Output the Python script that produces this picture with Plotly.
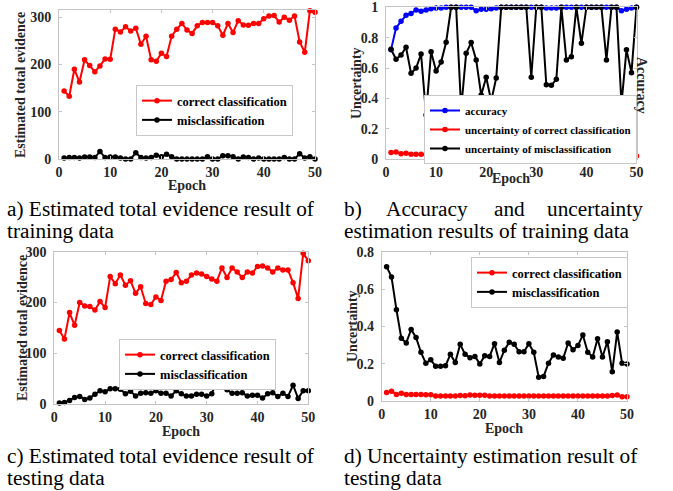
import plotly.graph_objects as go

W, H = 673, 491
epochs = list(range(1, 51))

# (a) training evidence
a_correct = [144, 133, 190, 163, 210, 198, 185, 197, 212, 211,
             275, 269, 280, 271, 277, 243, 260, 210, 207, 224,
             217, 260, 275, 287, 273, 266, 282, 289, 289, 289,
             282, 262, 287, 268, 293, 284, 283, 287, 287, 297,
             303, 304, 290, 300, 294, 303, 248, 226, 314, 311]
a_mis = [2, 3, 3, 2, 4, 4, 3, 16, 3, 4,
         4, 2, 0, 0, 13, 3, 2, 3, 8, 5,
         10, 5, 0, 0, 0, 0, 0, 0, 5, 0,
         0, 7, 7, 5, 0, 4, 3, 0, 2, 0,
         0, 0, 0, 3, 0, 0, 11, 2, 5, 0]

# (b) training accuracy / uncertainty
b_acc = [0.72, 0.864, 0.908, 0.947, 0.96, 0.982, 0.974, 0.982, 0.991, 0.996,
         0.996, 1.0, 1.0, 1.0, 1.0, 1.0, 1.0, 0.978, 0.987, 0.987,
         0.991, 0.996, 1.0, 1.0, 1.0, 1.0, 1.0, 1.0, 1.0, 1.0,
         1.0, 0.996, 0.996, 0.996, 1.0, 1.0, 1.0, 1.0, 1.0, 1.0,
         1.0, 1.0, 1.0, 1.0, 1.0, 1.0, 0.978, 0.987, 0.996, 1.0]
b_unc_correct = [0.045, 0.048, 0.037, 0.040, 0.033, 0.033, 0.033, 0.032, 0.031, 0.030,
                 0.027, 0.027, 0.027, 0.027, 0.027, 0.028, 0.027, 0.032, 0.031, 0.030,
                 0.030, 0.027, 0.027, 0.026, 0.026, 0.026, 0.026, 0.026, 0.026, 0.026,
                 0.026, 0.026, 0.026, 0.026, 0.026, 0.026, 0.026, 0.026, 0.026, 0.026,
                 0.026, 0.026, 0.026, 0.026, 0.026, 0.026, 0.027, 0.030, 0.022, 0.022]
b_unc_mis = [0.724, 0.658, 0.686, 0.737, 0.566, 0.600, 0.693, 0.292, 0.708, 0.581,
             0.640, 0.770, 1.0, 1.0, 0.331, 0.697, 0.768, 0.654, 0.423, 0.540,
             0.384, 0.535, 1.0, 1.0, 1.0, 1.0, 1.0, 1.0, 0.540, 1.0,
             1.0, 0.490, 0.487, 0.526, 1.0, 0.654, 0.675, 1.0, 0.763, 1.0,
             1.0, 1.0, 1.0, 0.654, 1.0, 1.0, 0.364, 0.720, 0.570, 1.0]

# (c) testing evidence
c_correct = [145, 128, 180, 155, 200, 193, 192, 185, 202, 190,
             251, 237, 254, 234, 243, 218, 231, 198, 196, 211,
             204, 242, 245, 259, 239, 242, 254, 258, 256, 251,
             246, 242, 268, 249, 268, 260, 249, 260, 258, 271,
             272, 268, 260, 268, 264, 264, 239, 208, 297, 282]
c_mis = [2, 3, 7, 13, 15, 9, 12, 19, 26, 24,
         30, 30, 29, 20, 25, 16, 21, 22, 21, 26,
         21, 21, 16, 26, 20, 16, 16, 19, 19, 16,
         20, 46, 45, 28, 21, 21, 22, 16, 17, 17,
         12, 20, 22, 15, 21, 15, 37, 11, 26, 26]

# (d) testing uncertainty
d_correct = [0.047, 0.054, 0.036, 0.043, 0.036, 0.036, 0.036, 0.036, 0.035, 0.035,
             0.029, 0.029, 0.029, 0.029, 0.029, 0.031, 0.030, 0.034, 0.033, 0.032,
             0.032, 0.029, 0.029, 0.029, 0.029, 0.029, 0.029, 0.029, 0.029, 0.029,
             0.029, 0.029, 0.028, 0.029, 0.028, 0.028, 0.028, 0.028, 0.028, 0.028,
             0.028, 0.028, 0.028, 0.028, 0.028, 0.028, 0.031, 0.034, 0.025, 0.025]
d_mis = [0.72, 0.665, 0.49, 0.337, 0.312, 0.384, 0.341, 0.262, 0.204, 0.222,
         0.187, 0.187, 0.19, 0.251, 0.208, 0.305, 0.251, 0.233, 0.24, 0.2,
         0.244, 0.24, 0.308, 0.208, 0.273, 0.316, 0.305, 0.265, 0.265, 0.308,
         0.262, 0.129, 0.133, 0.204, 0.248, 0.237, 0.23, 0.312, 0.276, 0.298,
         0.355, 0.262, 0.237, 0.334, 0.237, 0.319, 0.158, 0.37, 0.204, 0.2]

x_ticks = [0, 10, 20, 30, 40, 50]

FONT = "Liberation Serif"
TICKC = "#262626"
AXC = "#c4c4c4"

def px(x):
    return min(max(x / W, 0.0), 1.0)

def py(y):
    return min(max(1 - y / H, 0.0), 1.0)

fig = go.Figure()

def add(x, y, color, name, xa, ya, legend):
    fig.add_trace(go.Scatter(
        x=x, y=y, name=name, mode="lines+markers",
        line=dict(color=color, width=2),
        marker=dict(color=color, size=5.5, symbol="circle"),
        xaxis=xa, yaxis=ya, legend=legend, cliponaxis=False))

add(epochs, a_correct, "#ff0000", "correct classification", "x", "y", "legend")
add(epochs, a_mis, "#000000", "misclassification", "x", "y", "legend")
add(epochs, b_acc, "#0000ff", "accuracy", "x2", "y2", "legend2")
add(epochs, b_unc_correct, "#ff0000", "uncertainty of correct classification", "x2", "y2", "legend2")
add(epochs, b_unc_mis, "#000000", "uncertainty of misclassification", "x2", "y2", "legend2")
add(epochs, c_correct, "#ff0000", "correct classification", "x3", "y3", "legend3")
add(epochs, c_mis, "#000000", "misclassification", "x3", "y3", "legend3")
add(epochs, d_correct, "#ff0000", "correct classification", "x4", "y4", "legend4")
add(epochs, d_mis, "#000000", "misclassification", "x4", "y4", "legend4")

tickfont = dict(family=FONT, size=14, color=TICKC, weight="bold")

def xaxis(dom, anchor):
    return dict(domain=dom, anchor=anchor, range=[0, 50], tickvals=x_ticks,
                showgrid=False, zeroline=False, showline=True, linecolor=AXC,
                linewidth=1, mirror="ticks", ticks="inside", ticklen=3,
                tickcolor=AXC, tickfont=tickfont, automargin=False)

def yaxis(dom, anchor, rng, tv, tt):
    return dict(domain=dom, anchor=anchor, range=rng, tickvals=tv, ticktext=tt,
                showgrid=False, zeroline=False, showline=True, linecolor=AXC,
                linewidth=1, mirror="ticks", ticks="inside", ticklen=3,
                tickcolor=AXC, tickfont=tickfont, ticklabelstandoff=4,
                automargin=False)

# domains from pixel positions
xa = [px(59), px(315)]
ya = [py(159), py(10)]
xb = [px(386), px(636.5)]
yb = [py(159.3), py(7.3)]
xc = [px(54.3), px(308.3)]
yc = [py(404), py(251.7)]
xd = [px(381.7), px(627)]
yd = [py(401.3), py(251.7)]

ev_ticks = [0, 100, 200, 300]
ev_text = ["0", "100", "200", "300"]
unc_ticks_b = [0, 0.2, 0.4, 0.6, 0.8, 1.0]
unc_text_b = ["0", "0.2", "0.4", "0.6", "0.8", "1"]
unc_ticks_d = [0, 0.2, 0.4, 0.6, 0.8]
unc_text_d = ["0", "0.2", "0.4", "0.6", "0.8"]

def legend(x, y, size, xanchor="left"):
    return dict(x=x, y=y, xanchor=xanchor, yanchor="top", bgcolor="white",
                bordercolor="#c8c8c8", borderwidth=1,
                font=dict(family=FONT, size=size, color="#000000", weight="bold"),
                itemwidth=30, tracegroupgap=0)

anns = []

def text(x, y, s, size, bold=True, angle=0, xanchor="center", color=TICKC):
    anns.append(dict(x=px(x), y=py(y), xref="paper", yref="paper", text=s,
                     showarrow=False, textangle=angle, xanchor=xanchor,
                     yanchor="middle",
                     font=dict(family=FONT, size=size, color=color,
                               weight="bold" if bold else "normal")))

# axis titles
text(21, 85, "Estimated total evidence", 14, angle=-90)
text(187, 185, "Epoch", 14)
text(356, 83, "Uncertainty", 14, angle=-90)
text(641, 85, "Accuracy", 14, angle=90)
text(511, 178, "Epoch", 14)
text(22, 328, "Estimated total evidence", 14, angle=-90)
text(181, 431, "Epoch", 14)
text(352, 326, "Uncertainty", 14, angle=-90)
text(504, 428, "Epoch", 14)

# captions
CAP = 21.3
text(5, 209, "a) Estimated total evidence result of", CAP, bold=False, xanchor="left", color="#000000")
text(5, 231, "training data", CAP, bold=False, xanchor="left", color="#000000")
text(342, 209, "b)", CAP, bold=False, xanchor="left", color="#000000")
text(384, 209, "Accuracy", CAP, bold=False, xanchor="left", color="#000000")
text(492, 209, "and", CAP, bold=False, xanchor="left", color="#000000")
text(645, 209, "uncertainty", CAP, bold=False, xanchor="right", color="#000000")
text(342, 231, "estimation results of training data", CAP, bold=False, xanchor="left", color="#000000")
text(5, 456, "c) Estimated total evidence result of", CAP, bold=False, xanchor="left", color="#000000")
text(5, 478, "testing data", CAP, bold=False, xanchor="left", color="#000000")
text(342, 456, "d) Uncertainty estimation result of", CAP, bold=False, xanchor="left", color="#000000")
text(342, 478, "testing data", CAP, bold=False, xanchor="left", color="#000000")

fig.update_layout(
    width=W, height=H, autosize=False,
    margin=dict(l=0, r=0, t=0, b=0, pad=0),
    paper_bgcolor="white", plot_bgcolor="white",
    showlegend=True,
    xaxis=xaxis(xa, "y"),
    yaxis=yaxis(ya, "x", [0, 315.5], ev_ticks, ev_text),
    xaxis2=xaxis(xb, "y2"),
    yaxis2=yaxis(yb, "x2", [0, 1], unc_ticks_b, unc_text_b),
    xaxis3=xaxis(xc, "y3"),
    yaxis3=yaxis(yc, "x3", [0, 300], ev_ticks, ev_text),
    xaxis4=xaxis(xd, "y4"),
    yaxis4=yaxis(yd, "x4", [0, 0.8], unc_ticks_d, unc_text_d),
    legend=legend(px(136), py(85), 12.5),
    legend2=legend(px(637), py(95), 11, xanchor="right"),
    legend3=legend(px(119), py(339), 12.5),
    legend4=legend(px(628), py(257), 12.5, xanchor="right"),
    annotations=anns,
)

# the page body has a default 8px margin; remove it so the figure sits at 0,0
fig.write_html("out.html", config={"displayModeBar": False},
               post_script="document.body.style.margin='0';")
